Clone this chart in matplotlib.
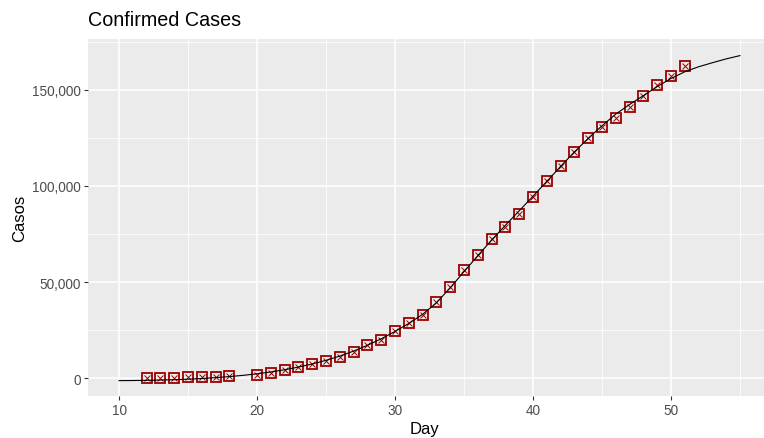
import matplotlib
matplotlib.use("Agg")
import matplotlib.pyplot as plt
from matplotlib.ticker import FuncFormatter, MultipleLocator

plt.rcParams['font.family'] = ['Liberation Sans', 'DejaVu Sans']

# observed points
days = [12, 13, 14, 15, 16, 17, 18,
        20, 21, 22, 23, 24, 25, 26, 27, 28, 29, 30, 31, 32, 33,
        34, 35, 36, 37, 38, 39, 40, 41, 42, 43, 44, 45, 46, 47, 48, 49, 50, 51]
cases = [150, 220, 300, 400, 500, 700, 1000,
         1900, 2750, 4100, 5650, 7400, 9000, 10850, 13450, 17100, 19900, 24700, 28500, 32900, 39650,
         47600, 56300, 63900, 72400, 78650, 85200, 94400, 102300, 110300, 117800, 124900, 130800,
         135100, 140800, 146900, 152600, 157300, 162100]

# fitted curve
fit_days = list(range(10, 56))
fit_vals = [-1250, -1200, -1100, -950, -750, -500, -150, 300, 850, 1500,
            2300, 3250, 4400, 5800, 7400, 9300, 11500, 14100, 17100, 20500,
            24300, 28500, 33200, 39200, 47000, 55400, 63700, 71800, 79500, 87000,
            94600, 102300, 110100, 117600, 124700, 131200, 137300, 142300, 146900, 151600,
            155800, 159300, 161900, 164000, 166000, 167700]

title = "Confirmed Cases"
xlabel = "Day"
ylabel = "Casos"

W, H = 764, 439
fig = plt.figure(figsize=(W / 100, H / 100), dpi=100)
L, R, T, B = 88, 771, 39.5, 397.3
ax = fig.add_axes([L / W, 1 - B / H, (R - L) / W, (B - T) / H])
ax.set_facecolor('#EBEBEB')
for s in ax.spines.values():
    s.set_visible(False)

ax.set_xlim(7.75, 57.25)
ax.set_ylim(-9400, 176600)
ax.xaxis.set_major_locator(MultipleLocator(10))
ax.xaxis.set_minor_locator(MultipleLocator(5))
ax.yaxis.set_major_locator(MultipleLocator(50000))
ax.yaxis.set_minor_locator(MultipleLocator(25000))
ax.yaxis.set_major_formatter(FuncFormatter(lambda v, p: f"{int(v):,}"))
ax.grid(which='major', color='white', linewidth=1.1)
ax.grid(which='minor', color='white', linewidth=0.55)
ax.set_axisbelow(True)
ax.tick_params(which='major', length=2.75, width=0.8, color='#333333',
               labelcolor='#4D4D4D', labelsize=9.8, pad=2.2)
ax.tick_params(which='minor', length=0)

ax.plot(days, cases, linestyle='none', marker='s', markersize=7,
        markerfacecolor='none', markeredgecolor='#9B0000', markeredgewidth=1.3, zorder=3)
ax.plot(days, cases, linestyle='none', marker='x', markersize=4.6,
        markeredgecolor='#9B0000', markeredgewidth=0.7, zorder=3)
ax.plot(fit_days, fit_vals, color='black', linewidth=0.8, zorder=4)

ax.set_xlabel(xlabel, fontsize=12, color='black')
ax.xaxis.set_label_coords((425 - L) / (R - L), -0.07)
ax.set_ylabel(ylabel, fontsize=12, color='black', labelpad=4)
fig.text(L / W, 1 - 20 / H, title, fontsize=14.2, color='black', va='center', ha='left')

fig.savefig('out.png', dpi=100, facecolor='white')
